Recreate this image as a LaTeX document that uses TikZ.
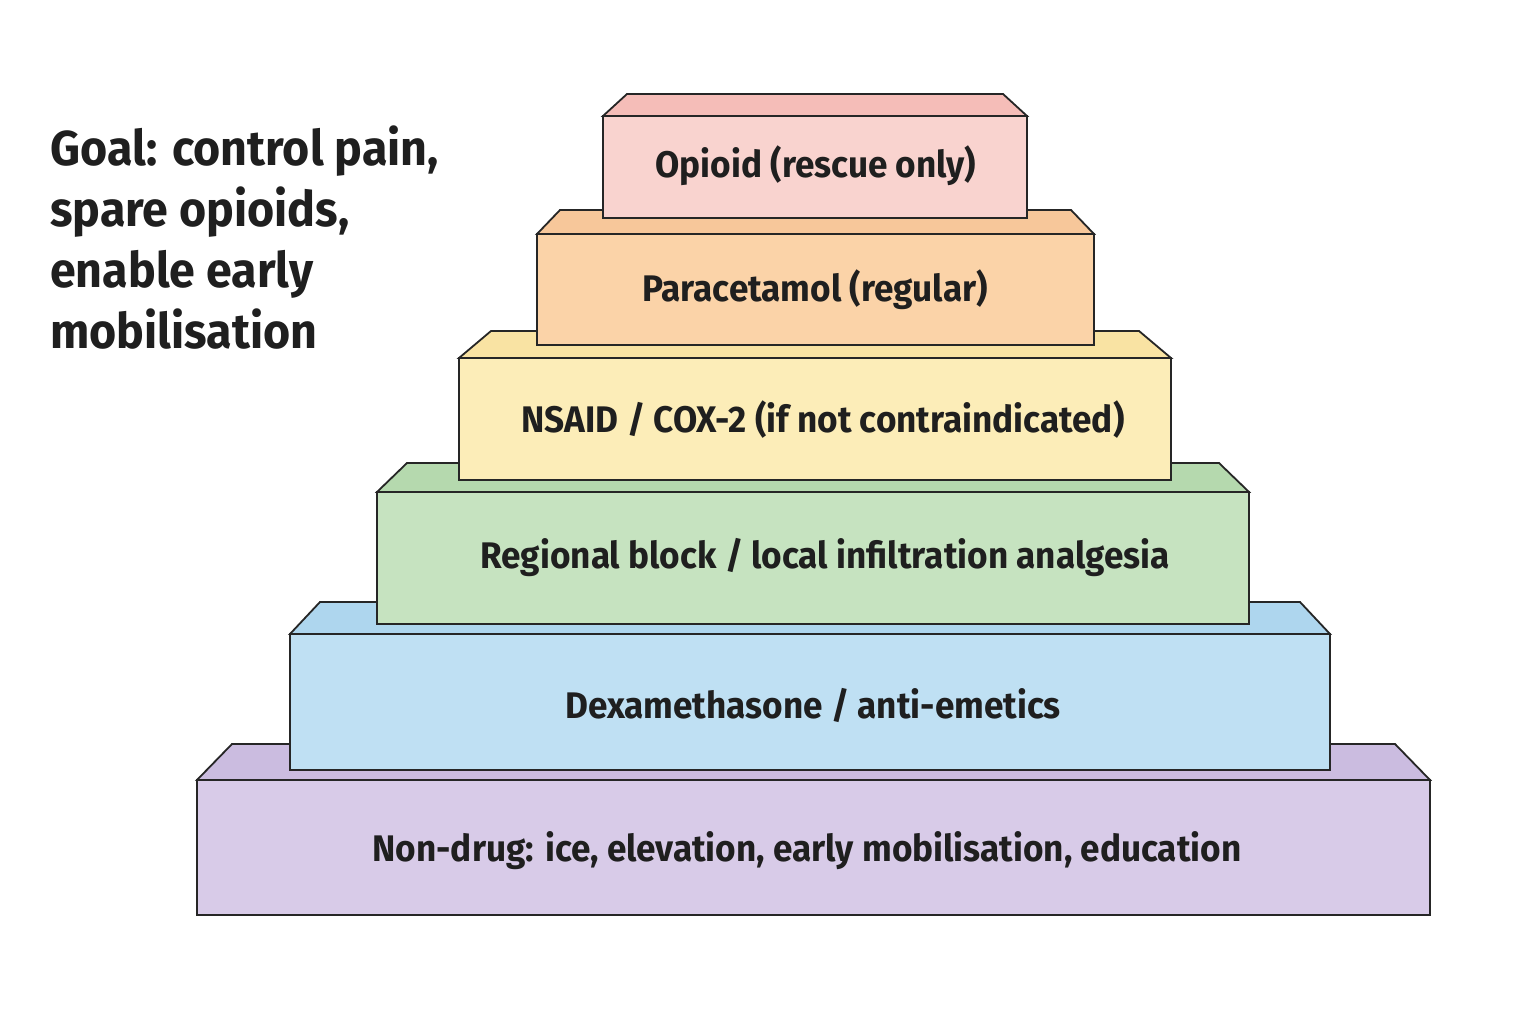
\documentclass[tikz,border=0pt]{standalone}
\usepackage{fontspec}
\setmainfont{Fira Sans}[FakeStretch=0.95]
\begin{document}
\begin{tikzpicture}[x=1pt,y=-1pt,line width=1.8pt,line join=miter,
  lbl/.style={font=\fontsize{37}{42}\selectfont\bfseries,text=black!88}]
\useasboundingbox[fill=white] (0,0) rectangle (1536,1024);
\newcommand{\tier}[9]{%
  \definecolor{fc#9}{HTML}{#7}\definecolor{tc#9}{HTML}{#8}%
  \draw[draw=black!85,fill=tc#9] (#1,#3) -- (#1+#5,#3-#6) -- (#2-#5,#3-#6) -- (#2,#3) -- cycle;
  \draw[draw=black!85,fill=fc#9] (#1,#3) rectangle (#2,#4);
}
\tier{197}{1430}{780}{915}{35}{36}{D8CBE8}{CBBCE0}{a}
\tier{290}{1330}{634}{770}{30}{32}{BFE0F3}{AED6EE}{b}
\tier{377}{1249}{492}{624}{30}{29}{C6E3C0}{B5D9AE}{c}
\tier{459}{1171}{358}{480}{32}{27}{FCEDB8}{F9E3A3}{d}
\tier{537}{1094}{234}{345}{23}{24}{FBD3A8}{F7C79A}{e}
\tier{603}{1027}{116}{218}{24}{22}{F9D3CF}{F5BDB8}{f}
\node[lbl] (t1) at (807,851) {Non-drug: ice, elevation, early mobilisation, education};
\node[lbl] (t2) at (813,705) {Dexamethasone / anti-emetics};
\node[lbl] (t3) at (825,558) {Regional block / local infiltration analgesia};
\node[lbl] (t4) at (823,420) {NSAID / COX-2 (if not contraindicated)};
\node[lbl] (t5) at (815,290) {Paracetamol (regular)};
\node[lbl] (t6) at (816,166) {Opioid (rescue only)};
\node[anchor=north west,align=left,font=\fontsize{49}{61}\selectfont\bfseries,text=black!88] (goal) at (46,122)
 {Goal: control pain,\\spare opioids,\\enable early\\mobilisation};
\end{tikzpicture}
\end{document}
